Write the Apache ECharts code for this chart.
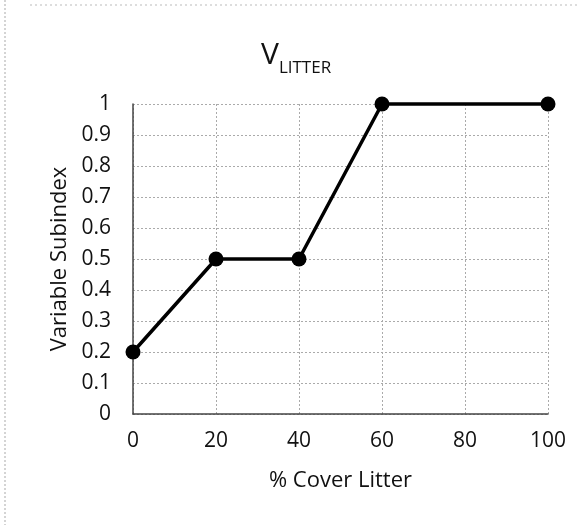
<!DOCTYPE html>
<html><head><meta charset="utf-8">
<script src="https://cdn.jsdelivr.net/npm/echarts@6/dist/echarts.min.js"></script>
<style>html,body{margin:0;padding:0;background:#fff}#c{width:579px;height:525px}</style>
</head><body><div id="c"></div>
<script>
const coverLitter = [0, 20, 40, 60, 100];
const subindex = [0.2, 0.5, 0.5, 1, 1];
const xTicks = [0, 20, 40, 60, 80, 100];
const yTicks = [0, 0.1, 0.2, 0.3, 0.4, 0.5, 0.6, 0.7, 0.8, 0.9, 1];

const chart = echarts.init(document.getElementById('c'));
const FONT = 'Open Sans';
chart.setOption({
  backgroundColor: '#fff',
  animation: false,
  title: {
    text: '{v|V}{s|LITTER}',
    left: 256, top: 29,
    textStyle: {
      fontWeight: 'normal',
      rich: {
        v: {fontFamily: FONT, fontSize: 30, fontWeight: 'normal', color: '#111', lineHeight: 36, verticalAlign: 'bottom'},
        s: {fontFamily: FONT, fontSize: 17, fontWeight: 'normal', color: '#111', lineHeight: 36, verticalAlign: 'bottom', padding: [0,0,-7,0]}
      }
    }
  },
  grid: {left: 133, right: 31, top: 104, bottom: 111},
  xAxis: {
    type: 'value', min: 0, max: 100, interval: 20,
    name: '% Cover Litter', nameLocation: 'middle', nameGap: 56,
    nameTextStyle: {fontFamily: FONT, fontSize: 22, color: '#111'},
    axisLine: {show: true, lineStyle: {color: '#444', width: 1.5}},
    axisTick: {show: false},
    axisLabel: {fontFamily: FONT, fontSize: 21, color: '#111', margin: 17,
      formatter: v => xTicks.includes(v) ? String(v) : ''},
    splitLine: {show: true, lineStyle: {color: '#aaa', type: [2, 2], width: 1}}
  },
  yAxis: {
    type: 'value', min: 0, max: 1, interval: 0.1,
    name: 'Variable Subindex', nameLocation: 'middle', nameGap: 59,
    nameTextStyle: {fontFamily: FONT, fontSize: 22, color: '#111'},
    axisLine: {show: true, lineStyle: {color: '#444', width: 1.5}},
    axisTick: {show: false},
    axisLabel: {fontFamily: FONT, fontSize: 21, color: '#111', margin: 22,
      formatter: v => { const t = yTicks.find(y => Math.abs(y - v) < 1e-9); return t === undefined ? '' : String(t); }},
    splitLine: {show: true, lineStyle: {color: '#aaa', type: [2, 2], width: 1}}
  },
  graphic: [
    {type: 'line', shape: {x1: 5, y1: 0, x2: 5, y2: 525}, style: {stroke: '#aaa', lineDash: [2, 2], lineWidth: 1}},
    {type: 'line', shape: {x1: 30, y1: 5, x2: 579, y2: 5}, style: {stroke: '#bbb', lineDash: [2, 3], lineWidth: 1}}
  ],
  series: [{
    type: 'line',
    data: coverLitter.map((x, i) => [x, subindex[i]]),
    symbol: 'circle', symbolSize: 15,
    lineStyle: {color: '#000', width: 3.5},
    itemStyle: {color: '#000'},
    clip: false
  }]
});
</script></body></html>
